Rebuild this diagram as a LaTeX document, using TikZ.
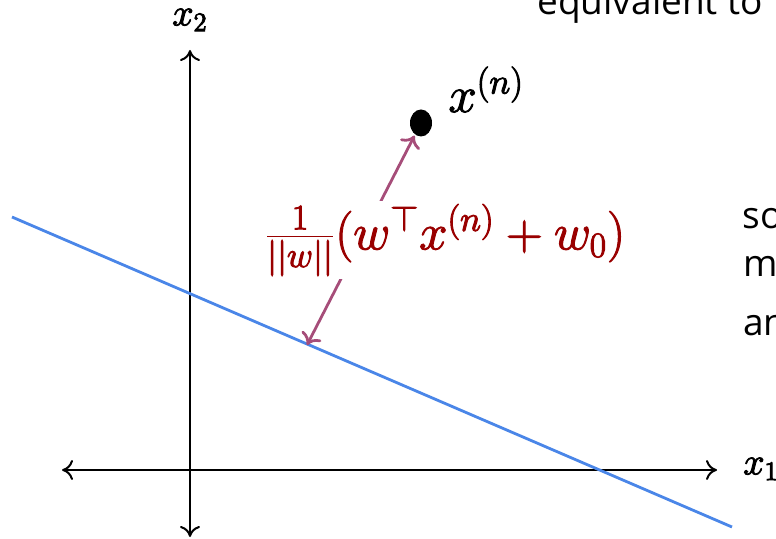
\RequirePackage{fix-cm}
\documentclass[tikz,border=0pt]{standalone}
\usepackage{fontspec}
\newfontfamily\slidefont{Open Sans}
\usetikzlibrary{arrows.meta,shapes.geometric}
\definecolor{lineblue}{HTML}{4A86E8}
\definecolor{arrowpurple}{HTML}{A64D79}
\definecolor{labelred}{HTML}{990000}
% heavier strokes for the math labels
\newcommand{\heavymath}[1]{\special{pdf:literal direct 2 Tr 0.5 w}#1\special{pdf:literal direct 0 Tr}}

\begin{document}
\begin{tikzpicture}[x=0.5pt, y=-0.5pt,
  axis/.style={line width=1pt, {Computer Modern Rightarrow[length=5.5pt,width=10pt]}-{Computer Modern Rightarrow[length=5.5pt,width=10pt]}},
  dist/.style={arrowpurple, line width=1.4pt, {Computer Modern Rightarrow[length=5.5pt,width=11pt]}-{Computer Modern Rightarrow[length=5.5pt,width=11pt]}},
  slidetext/.style={anchor=base west, inner sep=0pt, font=\slidefont\fontsize{18.5}{22}\selectfont},
  axislabel/.style={font=\fontsize{19}{22}\selectfont},
  bigmath/.style={font=\fontsize{25.5}{30}\selectfont}]
  \useasboundingbox (0,0) rectangle (776,539);
  \clip (0,0) rectangle (776,539);

  % --- text of the slide, cut by the frame ---
  \node[slidetext] (txteq) at (537,15) {equivalent to};
  \node[slidetext] (txtso) at (742,229) {so};
  \node[slidetext] (txtm) at (743,277) {m};
  \node[slidetext] (txtan) at (743,336) {an};

  % --- axes ---
  \draw[axis] (62,470) -- (717,470);
  \draw[axis] (190,537) -- (190,50);
  \node[axislabel] (lblxtwo) at (190,20) {\heavymath{$x_2$}};
  \node[axislabel, anchor=west, inner sep=0pt] (lblxone) at (743,469) {\heavymath{$x_1$}};

  % --- decision boundary ---
  \draw[lineblue, line width=1.4pt] (12,217) -- (732,527);
  \coordinate (foot) at (307,345);

  % --- data point ---
  \node[ellipse, fill=black, minimum width=11pt, minimum height=13.5pt, inner sep=0pt] (pt) at (421,123) {};
  \node[bigmath, anchor=base west, inner sep=0pt] (lblpt) at (448,112) {\heavymath{$x^{(n)}$}};

  % --- distance to the boundary ---
  \draw[dist, shorten >=0.5pt] (foot) -- (pt);
  \node[bigmath, text=labelred, fill=white, inner sep=1.5pt] (lbldist) at (445,240)
    {\heavymath{$\frac{1}{||w||}(w^\top x^{(n)} + w_0)$}};
\end{tikzpicture}
\end{document}
